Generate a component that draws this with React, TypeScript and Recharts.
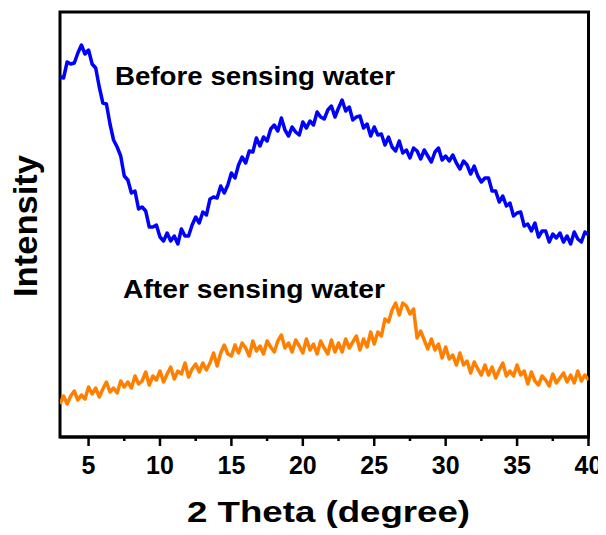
import React from "react";
import { LineChart, Line, XAxis, YAxis, ReferenceArea } from "recharts";

// scan grid: 3° to 40° in 0.25° steps
const THETA_START = 3;
const THETA_STEP = 0.25;

// counts (a.u.)
const BEFORE = [
  359, 358, 374, 372, 373, 383, 391, 382, 386, 372,
  368, 349, 333, 332, 312, 296, 289, 280, 260, 256,
  243, 245, 227, 229, 225, 209, 209, 211, 199, 195,
  203, 195, 200, 192, 207, 200, 200, 211, 219, 213,
  224, 221, 237, 239, 238, 250, 243, 251, 263, 258,
  271, 279, 273, 285, 284, 298, 290, 299, 295, 307,
  311, 305, 318, 306, 300, 309, 304, 301, 314, 308,
  315, 311, 324, 319, 317, 326, 330, 319, 328, 336,
  325, 329, 316, 319, 320, 308, 312, 300, 309, 301,
  302, 291, 299, 289, 285, 295, 283, 286, 278, 288,
  285, 277, 286, 280, 274, 284, 288, 276, 280, 275,
  281, 273, 267, 275, 271, 262, 270, 260, 254, 258,
  258, 245, 245, 234, 240, 230, 233, 220, 223, 224,
  210, 212, 205, 213, 199, 205, 205, 194, 202, 198,
  203, 194, 200, 192, 204, 197, 194, 204, 201,
];

const AFTER = [
  32, 40, 32, 40, 45, 36, 41, 37, 49, 42,
  48, 39, 47, 54, 44, 48, 43, 55, 49, 54,
  48, 60, 52, 55, 64, 51, 60, 56, 65, 54,
  62, 69, 57, 65, 62, 73, 59, 67, 72, 64,
  73, 66, 73, 83, 70, 83, 91, 82, 80, 91,
  83, 93, 88, 80, 95, 85, 90, 82, 95, 89,
  84, 95, 101, 88, 93, 84, 96, 90, 83, 97,
  86, 92, 82, 95, 88, 82, 96, 84, 93, 84,
  97, 88, 94, 100, 86, 97, 89, 104, 92, 104,
  100, 117, 114, 126, 133, 121, 133, 130, 122, 127,
  98, 105, 96, 87, 97, 86, 92, 78, 89, 77,
  81, 71, 83, 71, 75, 63, 74, 67, 61, 71,
  61, 69, 58, 66, 73, 60, 65, 60, 71, 61,
  65, 52, 64, 55, 51, 60, 56, 50, 62, 53,
  58, 63, 54, 61, 53, 65, 55, 61, 56,
];

const X_TICKS = [5, 7.5, 10, 12.5, 15, 17.5, 20, 22.5, 25, 27.5, 30, 32.5, 35, 37.5, 40];

const data = BEFORE.map((b, i) => ({
  theta: THETA_START + i * THETA_STEP,
  before: b,
  after: AFTER[i],
}));

const FONT = "'Liberation Sans', Arial, sans-serif";

const XTick = (props: any) => {
  const { x, y, payload } = props;
  const major = payload.value % 5 === 0;
  return (
    <g>
      <line x1={x} x2={x} y1={y} y2={y + (major ? 9 : 4)} stroke="#000" strokeWidth={2.5} />
      {major && (
        <text
          x={x}
          y={y + 37}
          textAnchor="middle"
          fontFamily={FONT}
          fontWeight="bold"
          fontSize={25}
          fill="#000"
        >
          {payload.value}
        </text>
      )}
    </g>
  );
};

const axisLine = { stroke: "#000", strokeWidth: 3 };

export default function App() {
  return (
    <div style={{ position: "relative", width: 598, height: 527 }}>
      <LineChart
        width={598}
        height={527}
        data={data}
        margin={{ top: 4, right: 17.5, left: 52, bottom: 8 }}
      >
        <XAxis
          xAxisId="b"
          dataKey="theta"
          type="number"
          domain={[3, 40]}
          ticks={X_TICKS}
          interval={0}
          tick={<XTick />}
          tickLine={false}
          tickSize={0}
          tickMargin={0}
          axisLine={axisLine}
          height={90}
          allowDataOverflow
        />
        <YAxis
          yAxisId="l"
          type="number"
          domain={[-1, 424]}
          tick={false}
          tickLine={false}
          axisLine={axisLine}
          width={0}
          allowDataOverflow
        />
        <Line
          xAxisId="b"
          yAxisId="l"
          dataKey="before"
          stroke="#0000FF"
          strokeWidth={3.5}
          strokeLinejoin="round"
          dot={false}
          type="linear"
          isAnimationActive={false}
        />
        <Line
          xAxisId="b"
          yAxisId="l"
          dataKey="after"
          stroke="#FF8000"
          strokeWidth={3.5}
          strokeLinejoin="round"
          dot={false}
          type="linear"
          isAnimationActive={false}
        />
        <ReferenceArea
          xAxisId="b"
          yAxisId="l"
          x1={3}
          x2={40}
          y1={-1}
          y2={424}
          fill="none"
          fillOpacity={0}
          stroke="#000"
          strokeWidth={3}
          ifOverflow="visible"
        />
      </LineChart>
      <svg
        width={598}
        height={527}
        style={{ position: "absolute", left: 0, top: 0, pointerEvents: "none" }}
      >
        <g fontFamily={FONT} fontWeight="bold" fill="#000">
          <text x={107} y={77} fontSize={25} textLength={280} lengthAdjust="spacingAndGlyphs">
            Before sensing water
          </text>
          <text x={115} y={290} fontSize={25} textLength={262} lengthAdjust="spacingAndGlyphs">
            After sensing water
          </text>
          <text x={179} y={514} fontSize={30} textLength={283} lengthAdjust="spacingAndGlyphs">
            2 Theta (degree)
          </text>
          <g transform="translate(29, 218) rotate(-90)">
            <text
              x={0}
              y={0}
              fontSize={34}
              textAnchor="middle"
              textLength={142}
              lengthAdjust="spacingAndGlyphs"
            >
              Intensity
            </text>
          </g>
        </g>
      </svg>
    </div>
  );
}
